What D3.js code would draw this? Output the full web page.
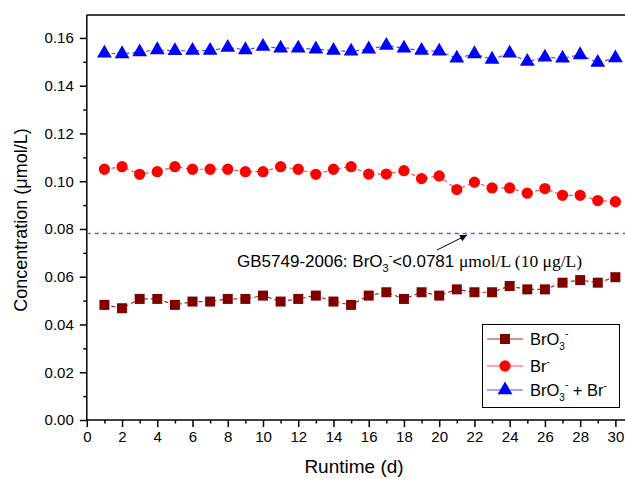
<!DOCTYPE html>
<html><head><meta charset="utf-8">
<script src="https://cdn.jsdelivr.net/npm/d3@7"></script>
<style>body{margin:0;background:#fff}svg{display:block}text{font-family:"Liberation Sans",Arial,sans-serif}</style>
</head><body><svg id="c" width="625" height="479"></svg>
<script>
const days = d3.range(1, 31);
const bro3 = [0.0482,0.0468,0.0507,0.0507,0.0482,0.0496,0.0496,0.0507,0.0507,0.0521,0.0496,0.0507,0.0521,0.0496,0.0482,0.0521,0.0535,0.0507,0.0535,0.0521,0.0547,0.0535,0.0535,0.0561,0.0547,0.0547,0.0575,0.0586,0.0575,0.0598];
const br = [0.1050,0.1061,0.1029,0.1040,0.1061,0.1050,0.1050,0.1050,0.1040,0.1040,0.1061,0.1050,0.1029,0.1050,0.1061,0.1030,0.1030,0.1044,0.1011,0.1022,0.0965,0.0996,0.0972,0.0972,0.0950,0.0969,0.0941,0.0941,0.0919,0.0914];
const total = [0.1536,0.1533,0.1541,0.1550,0.1546,0.1547,0.1547,0.1560,0.1550,0.1564,0.1557,0.1557,0.1553,0.1547,0.1544,0.1553,0.1568,0.1557,0.1547,0.1544,0.1515,0.1533,0.1510,0.1536,0.1501,0.1519,0.1515,0.1529,0.1497,0.1516];
const xTicks = d3.range(0, 31, 2);
const yTicks = [0,0.02,0.04,0.06,0.08,0.10,0.12,0.14,0.16];
const limit = 0.0781;

const svg = d3.select("#c");
const x = d3.scaleLinear().domain([0, 30.5]).range([86.8, 624.2]);
const y = d3.scaleLinear().domain([0, 0.1696]).range([420, 15]);

svg.append("line").attr("x1",86.8).attr("x2",625).attr("y1",15).attr("y2",15).attr("stroke","#000").attr("stroke-width",1.5);

const xAxis = svg.append("g").attr("transform","translate(0,420)")
  .call(d3.axisBottom(x).tickValues(xTicks).tickSize(7).tickPadding(4).tickFormat(d3.format("d")));
svg.append("g").attr("transform","translate(0,420)")
  .call(d3.axisBottom(x).tickValues(d3.range(1,31,2)).tickSize(3.5).tickFormat(""))
  .select(".domain").remove();
const yAxis = svg.append("g").attr("transform","translate(86.8,0)")
  .call(d3.axisLeft(y).tickValues(yTicks).tickSize(7).tickPadding(6).tickFormat(d3.format(".2f")));
svg.append("g").attr("transform","translate(86.8,0)")
  .call(d3.axisLeft(y).tickValues(d3.range(0.01,0.17,0.02)).tickSize(3.5).tickFormat(""))
  .select(".domain").remove();
svg.selectAll(".domain").attr("stroke-width",1.5);
svg.selectAll(".tick line").attr("stroke-width",1.5);
svg.selectAll(".tick text").attr("font-size",15).attr("font-family","Liberation Sans, Arial, sans-serif").attr("fill","#000");
xAxis.select(".domain").attr("d","M86.8,0H625");
yAxis.select(".domain").attr("d","M0,420V15");

svg.append("text").attr("x",354).attr("y",473).attr("text-anchor","middle").attr("font-size",19).text("Runtime (d)");
svg.append("text").attr("transform","translate(27,220) rotate(-90)").attr("text-anchor","middle").attr("font-size",18).text("Concentration (μmol/L)");

svg.append("line").attr("x1",x(0)).attr("x2",625).attr("y1",Math.round(y(limit))+0.5).attr("y2",Math.round(y(limit))+0.5)
  .attr("stroke","#9933ff").attr("stroke-width",1.5).attr("stroke-dasharray","4,4");

const ann = svg.append("text").attr("x",237).attr("y",267).attr("font-size",17);
ann.append("tspan").text("GB5749-2006: BrO");
ann.append("tspan").attr("font-size",11).attr("dy",5).text("3");
ann.append("tspan").attr("font-size",11).attr("dy",-13).text("-");
ann.append("tspan").attr("dy",8).text("<0.0781 ");
ann.append("tspan").attr("font-family","Liberation Serif, Times New Roman, serif").attr("font-size",17.5).text("μmol/L (10 μg/L)");
svg.append("defs").append("marker").attr("id","ah").attr("viewBox","0 0 10 10").attr("refX",10).attr("refY",5)
  .attr("markerWidth",9).attr("markerHeight",7).attr("orient","auto").attr("markerUnits","userSpaceOnUse")
  .append("path").attr("d","M0,0L10,5L0,10z").attr("fill","#000");
svg.append("line").attr("x1",437).attr("y1",250).attr("x2",467).attr("y2",235).attr("stroke","#000").attr("stroke-width",1).attr("marker-end","url(#ah)");

const series = [
  {name:"bro3", vals:bro3, color:"#800000", line:"#a52a2a", shape:d3.symbolSquare, size:100},
  {name:"br", vals:br, color:"#ff0000", line:"#ff4d4d", shape:d3.symbolCircle, size:100},
  {name:"total", vals:total, color:"#0000ff", line:"#4d4dff", shape:d3.symbolTriangle, size:95}
];
const line = d3.line().x((d,i)=>x(days[i])).y(d=>y(d));
series.forEach(s=>{
  svg.append("path").attr("d",line(s.vals)).attr("fill","none").attr("stroke",s.line).attr("stroke-width",1.2).attr("stroke-dasharray","4,3");
  svg.append("g").selectAll("path").data(s.vals).join("path")
    .attr("transform",(d,i)=>`translate(${x(days[i])},${y(d)})`)
    .attr("d",d3.symbol().type(s.shape).size(s.size)).attr("fill",s.color);
});

const lg = svg.append("g");
lg.append("rect").attr("x",482.5).attr("y",324.5).attr("width",137).attr("height",83).attr("fill","#fff").attr("stroke","#000").attr("stroke-width",1);
const rows = [339,366,390];
series.forEach((s,i)=>{
  lg.append("line").attr("x1",487).attr("x2",523).attr("y1",rows[i]).attr("y2",rows[i]).attr("stroke",s.line).attr("stroke-width",1.2);
  lg.append("path").attr("transform",`translate(505,${rows[i]})`).attr("d",d3.symbol().type(s.shape).size(s.size)).attr("fill",s.color);
});
let t1 = lg.append("text").attr("x",530).attr("y",345).attr("font-size",16.5);
t1.append("tspan").text("BrO");
t1.append("tspan").attr("font-size",10).attr("dy",5).text("3");
t1.append("tspan").attr("font-size",10).attr("dy",-13).text("-");
let t2 = lg.append("text").attr("x",530).attr("y",372).attr("font-size",16.5);
t2.append("tspan").text("Br");
t2.append("tspan").attr("font-size",10).attr("dy",-7).text("-");
let t3 = lg.append("text").attr("x",530).attr("y",396).attr("font-size",16.5);
t3.append("tspan").text("BrO");
t3.append("tspan").attr("font-size",10).attr("dy",5).text("3");
t3.append("tspan").attr("font-size",10).attr("dy",-13).text("-");
t3.append("tspan").attr("dy",8).text(" + Br");
t3.append("tspan").attr("font-size",10).attr("dy",-7).text("-");
</script></body></html>
